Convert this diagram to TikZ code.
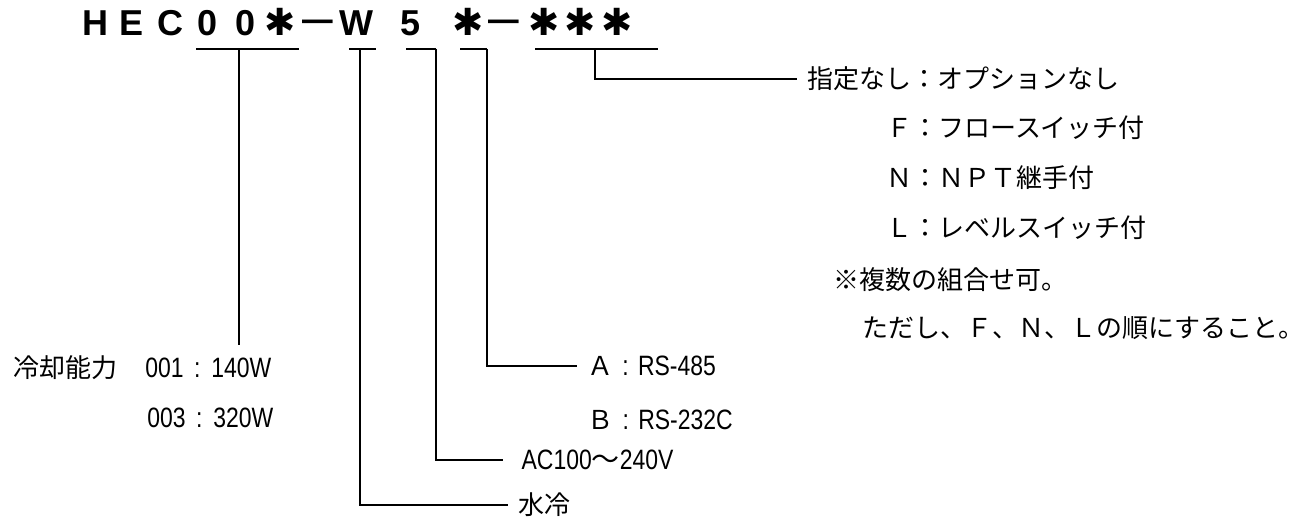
\documentclass[tikz,border=0pt]{standalone}
\usepackage{fontspec}
\setmainfont{Liberation Sans}
\newfontfamily\jpfont{Noto Sans CJK JP}
\newfontfamily\symfont{DejaVu Sans}
\newfontfamily\narrowfont{Liberation Sans}[FakeStretch=0.82]
\newcommand{\hw}[1]{{\narrowfont\fontsize{21}{22}\selectfont #1}}
\newcommand{\hast}{{\symfont\fontsize{28}{28}\selectfont ✱}}
\newcommand{\hdash}{\scalebox{0.85}[1]{\raisebox{3pt}{—}}}
\usepackage{tikz}

\tikzset{
    hd/.style={anchor=base, inner sep=0pt, font=\fontsize{27}{27}\selectfont\bfseries},
    txt/.style={anchor=west, inner sep=0pt, font=\jpfont\fontsize{19.5}{20}\selectfont},
    lbl/.style={txt, outer xsep=7.5pt},
    wire/.style={line width=1.1pt},
}

\begin{document}
\begin{tikzpicture}[x=0.75pt,y=-0.75pt]
    \useasboundingbox (0,0) rectangle (1316,524);
    \foreach \c/\x [count=\i] in {H/95,E/132,C/170,0/208,0/246,\hast/280,\hdash/318,W/356,5/411,\hast/468,\hdash/504,\hast/544,\hast/580,\hast/617}
        \node[hd] (h\i) at (\x,36) {\c};
    \foreach \n/\a/\b in {u1/196/299,u2/349/376,u3/406/436,u4/460/487,u5/535/658} {
        \coordinate (\n-l) at (\a,49);
        \coordinate (\n-r) at (\b,49);
        \draw[wire] (\n-l) -- (\n-r);
    }
    \coordinate (d1) at (239,49);
    \coordinate (d1e) at (239,345);
    \coordinate (d2) at (360,49);
    \coordinate (d5) at (595,49);

    \node[lbl] (opt0) at (797,79) {指定なし：オプションなし};
    \node[txt] (optF) at (886,128) {Ｆ：フロースイッチ付};
    \node[txt] (optN) at (886,178) {Ｎ：ＮＰＴ継手付};
    \node[txt] (optL) at (886,228) {Ｌ：レベルスイッチ付};
    \node[txt] (note1) at (833,280) {※複数の組合せ可。};
    \node[txt] (note2) at (862,328) {ただし、Ｆ、Ｎ、Ｌの順にすること。};

    \node[txt] (cool) at (13,368) {冷却能力};
    \node[txt] (cool1) at (145,368) {\hw{001\hspace{8pt}:\hspace{8pt}140W}};
    \node[txt] (cool3) at (147,418) {\hw{003\hspace{8pt}:\hspace{8pt}320W}};

    \node[lbl] (ifA) at (577,366) {Ａ\hw{\hspace{7pt}:\hspace{7pt}RS-485}};
    \node[txt] (ifB) at (587,420) {Ｂ\hw{\hspace{7pt}:\hspace{7pt}RS-232C}};
    \node[lbl, outer xsep=14pt] (ac) at (503,460) {\hw{AC100{\jpfont ～}240V}};
    \node[lbl] (water) at (508,505) {水冷};

    \draw[wire] (d1) -- (d1e);
    \draw[wire] (d2) |- (water.west);
    \draw[wire] (u3-r) |- (ac.west);
    \draw[wire] (u4-r) |- (ifA.west);
    \draw[wire] (d5) |- (opt0.west);
\end{tikzpicture}
\end{document}
